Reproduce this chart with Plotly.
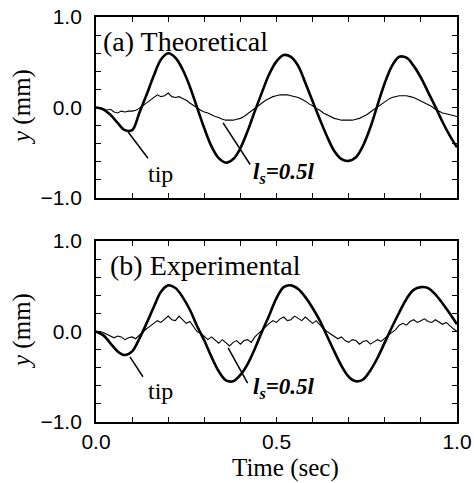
import plotly.graph_objects as go

# ---------------- data ----------------
T_THICK = [round(i * 0.02, 2) for i in range(51)]
T_THIN = [round(i * 0.01, 2) for i in range(101)]

tip_theory = [0.00, -0.02, -0.08, -0.17, -0.25, -0.25, -0.06, 0.14, 0.35, 0.53,
              0.60, 0.55, 0.42, 0.23, 0.00, -0.23, -0.43, -0.56, -0.61, -0.57,
              -0.45, -0.26, -0.04, 0.17, 0.37, 0.51, 0.58, 0.56, 0.46, 0.27,
              0.07, -0.13, -0.32, -0.48, -0.57, -0.59, -0.55, -0.42, -0.22, 0.03,
              0.27, 0.46, 0.56, 0.55, 0.46, 0.33, 0.17, 0.01, -0.16, -0.31, -0.44]

mid_theory = [0.00, 0.00, -0.01, -0.03, -0.02, -0.05, -0.06, -0.04, -0.05, -0.04,
              -0.04, -0.03, -0.01, 0.02, 0.05, 0.08, 0.11, 0.14, 0.12, 0.13,
              0.16, 0.12, 0.11, 0.12, 0.10, 0.08, 0.05, 0.02, -0.01, -0.03,
              -0.05, -0.06, -0.08, -0.10, -0.11, -0.13, -0.14, -0.14, -0.14, -0.13,
              -0.12, -0.10, -0.07, -0.04, -0.01, 0.02, 0.05, 0.08, 0.10, 0.12,
              0.13, 0.14, 0.14, 0.14, 0.13, 0.12, 0.11, 0.09, 0.07, 0.04,
              0.02, -0.01, -0.03, -0.06, -0.08, -0.10, -0.12, -0.13, -0.14, -0.14,
              -0.14, -0.14, -0.13, -0.12, -0.10, -0.08, -0.05, -0.02, 0.01, 0.04,
              0.06, 0.09, 0.11, 0.12, 0.13, 0.13, 0.13, 0.12, 0.11, 0.09,
              0.07, 0.05, 0.03, 0.01, -0.02, -0.04, -0.06, -0.07, -0.08, -0.09, -0.10]

tip_exp = [0.00, -0.04, -0.13, -0.22, -0.26, -0.22, -0.08, 0.09, 0.27, 0.44,
           0.51, 0.48, 0.38, 0.24, 0.06, -0.10, -0.28, -0.44, -0.54, -0.55,
           -0.48, -0.36, -0.19, 0.00, 0.18, 0.37, 0.49, 0.51, 0.47, 0.38,
           0.26, 0.12, -0.05, -0.22, -0.38, -0.50, -0.55, -0.53, -0.43, -0.29,
           -0.12, 0.05, 0.21, 0.36, 0.46, 0.49, 0.48, 0.41, 0.31, 0.20, 0.08]

mid_exp = [0.00, 0.00, -0.01, -0.03, -0.05, -0.07, -0.05, -0.06, -0.09, -0.07,
           -0.06, -0.08, -0.04, 0.00, 0.03, 0.06, 0.09, 0.12, 0.10, 0.14,
           0.17, 0.13, 0.12, 0.17, 0.13, 0.09, 0.11, 0.05, 0.00, -0.02,
           -0.06, -0.09, -0.06, -0.10, -0.13, -0.09, -0.12, -0.16, -0.12, -0.10,
           -0.14, -0.10, -0.09, -0.12, -0.06, -0.02, 0.01, 0.05, 0.09, 0.12,
           0.10, 0.14, 0.16, 0.12, 0.13, 0.17, 0.14, 0.12, 0.16, 0.12,
           0.09, 0.12, 0.07, 0.03, 0.00, -0.03, -0.06, -0.08, -0.06, -0.10,
           -0.12, -0.09, -0.10, -0.14, -0.11, -0.10, -0.14, -0.11, -0.09, -0.11,
           -0.07, -0.04, -0.01, 0.02, 0.07, 0.09, 0.07, 0.11, 0.13, 0.10,
           0.12, 0.14, 0.11, 0.10, 0.13, 0.10, 0.08, 0.10, 0.06, 0.03, 0.00]

X_TICKS = [round(i * 0.1, 1) for i in range(11)]
X_LABELS = ["0.0", "", "", "", "", "0.5", "", "", "", "", "1.0"]
Y_TICKS = [round(-1 + i * 0.2, 1) for i in range(11)]
Y_LABELS = ["\u22121.0", "", "", "", "", "0.0", "", "", "", "", "1.0"]

# ---------------- figure ----------------
fig = go.Figure()
BLACK = "black"

fig.add_trace(go.Scatter(x=T_THIN, y=mid_theory, mode="lines",
                         line=dict(color=BLACK, width=1.1), xaxis="x", yaxis="y"))
fig.add_trace(go.Scatter(x=T_THICK, y=tip_theory, mode="lines", line_shape="spline",
                         line=dict(color=BLACK, width=2.6), xaxis="x", yaxis="y"))
fig.add_trace(go.Scatter(x=T_THIN, y=mid_exp, mode="lines",
                         line=dict(color=BLACK, width=1.1), xaxis="x2", yaxis="y2"))
fig.add_trace(go.Scatter(x=T_THICK, y=tip_exp, mode="lines", line_shape="spline",
                         line=dict(color=BLACK, width=2.6), xaxis="x2", yaxis="y2"))

XDOM = [96 / 474, 457 / 474]
axis_common = dict(showline=True, linecolor=BLACK, linewidth=1.8, mirror="allticks",
                   ticks="inside", ticklen=5, tickwidth=1.4, tickcolor=BLACK,
                   showgrid=False, zeroline=False, automargin=False,
                   tickfont=dict(family="Liberation Sans, Arial", size=21, color=BLACK))

fig.update_layout(
    width=474, height=483,
    margin=dict(l=0, r=0, t=0, b=0, pad=0),
    paper_bgcolor="white", plot_bgcolor="white",
    showlegend=False,
    xaxis=dict(axis_common, domain=XDOM, range=[0, 1], tickvals=X_TICKS,
               ticktext=X_LABELS, showticklabels=False, anchor="y"),
    yaxis=dict(axis_common, domain=[(483 - 198) / 483, (483 - 17) / 483], range=[-1, 1],
               tickvals=Y_TICKS, ticktext=Y_LABELS, anchor="x", ticklabelstandoff=8),
    xaxis2=dict(axis_common, domain=XDOM, range=[0, 1], tickvals=X_TICKS,
                ticktext=X_LABELS, anchor="y2", ticklabelstandoff=0),
    yaxis2=dict(axis_common, domain=[(483 - 422) / 483, (483 - 241) / 483], range=[-1, 1],
                tickvals=Y_TICKS, ticktext=Y_LABELS, anchor="x2", ticklabelstandoff=8),
)

SERIF = "Liberation Serif, Times New Roman, serif"
ann = []
ann.append(dict(text="(a) Theoretical", xref="paper", yref="paper", x=101 / 474, y=1 - 42 / 483,
                xanchor="left", yanchor="middle", showarrow=False,
                font=dict(family=SERIF, size=28, color=BLACK)))
ann.append(dict(text="(b) Experimental", xref="paper", yref="paper", x=108 / 474, y=1 - 265 / 483,
                xanchor="left", yanchor="middle", showarrow=False,
                font=dict(family=SERIF, size=28, color=BLACK)))
for yc in (107, 331):
    ann.append(dict(text="<i>y</i> (mm)", xref="paper", yref="paper", x=22 / 474, y=1 - yc / 483,
                    xanchor="center", yanchor="middle", textangle=-90, showarrow=False,
                    font=dict(family=SERIF, size=25, color=BLACK)))
ann.append(dict(text="Time (sec)", xref="paper", yref="paper", x=285 / 474, y=0,
                xanchor="center", yanchor="bottom", showarrow=False, borderpad=0,
                font=dict(family=SERIF, size=25, color=BLACK)))
for xr, yr, ty_tip, ty_ls in (("x", "y", -0.74, -0.72), ("x2", "y2", -0.66, -0.62)):
    ann.append(dict(text="tip", xref=xr, yref=yr, x=0.18, y=ty_tip, xanchor="center",
                    yanchor="middle", showarrow=False,
                    font=dict(family=SERIF, size=24, color=BLACK)))
    ann.append(dict(text="<b><i>l<sub>s</sub>=0.5l</i></b>", xref=xr, yref=yr, x=0.428, y=ty_ls,
                    xanchor="left", yanchor="middle", showarrow=False,
                    font=dict(family=SERIF, size=23, color=BLACK)))
fig.update_layout(annotations=ann)

leaders = [
    ("x", "y", 0.089, -0.27, 0.144, -0.56),
    ("x", "y", 0.352, -0.17, 0.427, -0.63),
    ("x2", "y2", 0.094, -0.28, 0.130, -0.50),
    ("x2", "y2", 0.366, -0.18, 0.420, -0.57),
]
for xr, yr, x0, y0, x1, y1 in leaders:
    fig.add_shape(type="line", xref=xr, yref=yr, x0=x0, y0=y0, x1=x1, y1=y1,
                  line=dict(color=BLACK, width=1.5))

fig.write_html("out.html")
